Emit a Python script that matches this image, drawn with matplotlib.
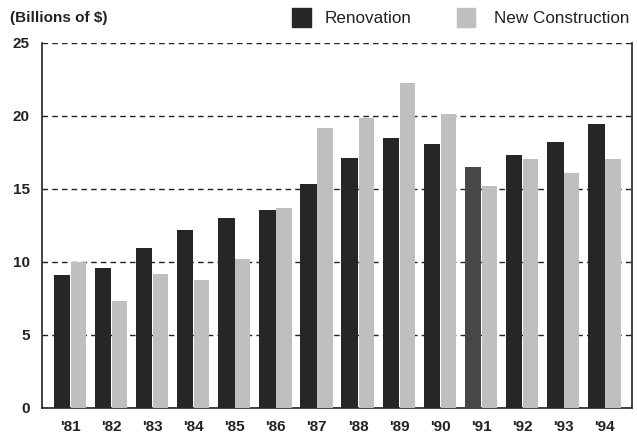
import numpy as np
import matplotlib.pyplot as plt
from matplotlib.patches import Rectangle

plt.rcParams['font.family'] = ['Liberation Sans', 'DejaVu Sans']

# Values (billions of $)
years = ["'81", "'82", "'83", "'84", "'85", "'86", "'87",
         "'88", "'89", "'90", "'91", "'92", "'93", "'94"]
renovation = [9.1, 9.6, 10.95, 12.15, 13.0, 13.55, 15.3,
              17.1, 18.5, 18.1, 16.5, 17.35, 18.2, 19.45]
new_construction = [10.0, 7.35, 9.2, 8.75, 10.2, 13.7, 19.2,
                    19.85, 22.25, 20.15, 15.2, 17.05, 16.1, 17.05]

dark = '#262626'
light = '#bfbfbf'

fig = plt.figure(figsize=(6.37, 4.33), dpi=100)
ax = fig.add_axes([0.066, 0.058, 0.926, 0.843])

x = np.arange(len(years))
w = 0.40
ren_colors = [dark] * len(years)
ren_colors[years.index("'91")] = '#474747'
ax.bar(x - w / 2, renovation, width=w, color=ren_colors, zorder=3)
ax.bar(x + w / 2, new_construction, width=0.37, color=light, zorder=3)

ax.set_xlim(-0.68, 13.66)
ax.set_ylim(0, 25)
ax.set_yticks([0, 5, 10, 15, 20, 25])
ax.set_xticks(x)
ax.set_xticklabels(years)
ax.tick_params(axis='both', labelsize=11, length=0, pad=9)
ax.tick_params(axis='x', pad=9)
for lab in ax.get_xticklabels() + ax.get_yticklabels():
    lab.set_fontweight('bold')
    lab.set_color('#222222')

ax.yaxis.grid(True, linestyle=(0, (4, 3)), color='#222222', linewidth=1.0, zorder=1)
ax.set_axisbelow(True)
for side in ['left', 'right', 'bottom']:
    ax.spines[side].set_color('#222222')
    ax.spines[side].set_linewidth(1.2)
ax.spines['top'].set_visible(False)

fig.text(0.016, 0.958, '(Billions of $)', fontsize=11, fontweight='bold',
         color='#222222', va='center')

# legend drawn as squares + text
fig.patches.append(Rectangle((0.458, 0.938), 0.030, 0.044, transform=fig.transFigure,
                             color=dark))
fig.text(0.510, 0.958, 'Renovation', fontsize=12.3, color='#222222', va='center')
fig.patches.append(Rectangle((0.717, 0.938), 0.028, 0.044, transform=fig.transFigure,
                             color=light))
fig.text(0.776, 0.958, 'New Construction', fontsize=12.3, color='#222222', va='center')

fig.savefig('out.png', dpi=100)
